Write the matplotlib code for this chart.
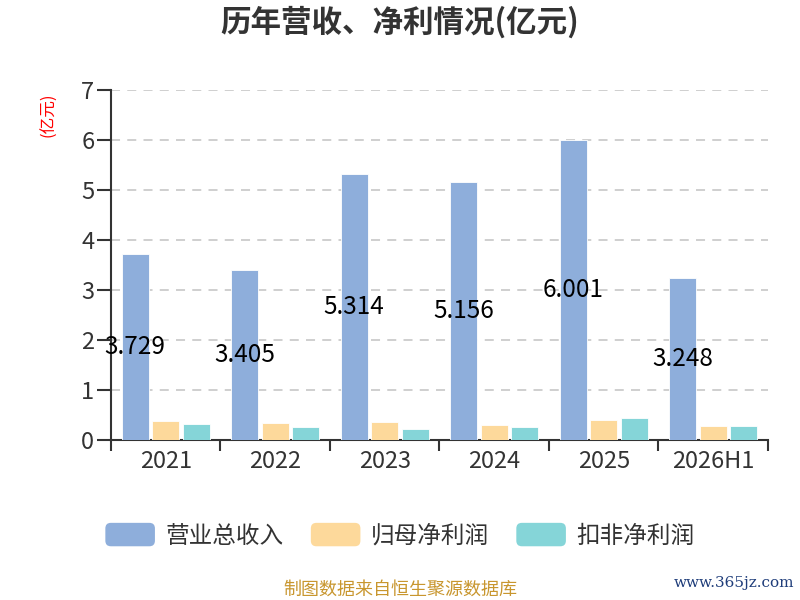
import numpy as np
import matplotlib
matplotlib.use("Agg")
import matplotlib.pyplot as plt
from matplotlib.patches import FancyBboxPatch, Patch
from matplotlib.legend_handler import HandlerPatch

plt.rcParams['font.family'] = ['Noto Sans CJK SC', 'DejaVu Sans']

# 数据
years = ['2021', '2022', '2023', '2024', '2025', '2026H1']
revenue = [3.729, 3.405, 5.314, 5.156, 6.001, 3.248]
net_profit = [0.37, 0.33, 0.35, 0.29, 0.40, 0.28]
deducted_profit = [0.32, 0.25, 0.22, 0.25, 0.43, 0.28]
series_names = ['营业总收入', '归母净利润', '扣非净利润']
colors = ['#8eaedb', '#fdd99b', '#85d5d8']


class RoundHandler(HandlerPatch):
    def create_artists(self, legend, orig_handle, xdescent, ydescent,
                       width, height, fontsize, trans):
        p = FancyBboxPatch((-xdescent, -ydescent), width, height,
                           boxstyle="round,pad=0,rounding_size=4",
                           facecolor=orig_handle.get_facecolor(),
                           edgecolor='none', transform=trans)
        return [p]


fig = plt.figure(figsize=(8, 6), dpi=100)
ax = fig.add_axes([0.13875, 0.2667, 0.8212, 0.5833])

x = np.arange(len(years))
w = 0.247
step = 0.28
all_series = [revenue, net_profit, deducted_profit]
for i, vals in enumerate(all_series):
    ax.bar(x + (i - 1) * step, vals, width=w, color=colors[i],
           edgecolor='white', linewidth=0.6, zorder=3)

# 营收数值标签放在柱子中部
for xi, v in zip(x, revenue):
    ax.text(xi - step, v / 2, f'{v:.3f}', ha='center', va='center',
            fontsize=17.5, color='black', zorder=4)

ax.set_xlim(-0.5, len(years) - 0.5)
ax.set_ylim(0, 7)
ax.set_yticks(range(0, 8))
ax.set_xticks(np.arange(-0.5, len(years), 1.0), minor=False)
ax.set_xticklabels([])
ax.set_xticks(x, minor=True)
ax.set_xticklabels(years, minor=True)
ax.tick_params(axis='x', which='minor', length=0, labelsize=17,
               labelcolor='#333333', pad=7)
ax.tick_params(axis='x', which='major', length=8, width=1.5, color='#333333')
ax.tick_params(axis='y', length=10, width=1.5, color='#333333',
               labelsize=17, labelcolor='#333333', pad=2)

for y in range(1, 8):
    ax.axhline(y, color='#cccccc', linestyle=(0, (5, 4)), linewidth=1.3, zorder=1)

for s in ['top', 'right']:
    ax.spines[s].set_visible(False)
for s in ['left', 'bottom']:
    ax.spines[s].set_color('#333333')
    ax.spines[s].set_linewidth(1.5)

fig.text(0.061, 0.808, '(亿元)', rotation=90, color='red', fontsize=12,
         ha='center', va='center')

fig.text(0.5, 0.962, '历年营收、净利情况(亿元)', ha='center', va='center',
         fontsize=22, fontweight='bold', color='#333333')

handles = [Patch(facecolor=c) for c in colors]
fig.legend(handles, series_names, loc='center', bbox_to_anchor=(0.5, 0.108),
           ncol=3, frameon=False, fontsize=17, handlelength=2.1,
           handleheight=1.15, handletextpad=0.45, columnspacing=1.15,
           labelcolor='#333333',
           handler_map={Patch: RoundHandler()})

fig.text(0.5, 0.017, '制图数据来自恒生聚源数据库', ha='center', va='center',
         fontsize=13, color='#c8962e')
fig.text(0.993, 0.028, 'www.365jz.com', ha='right', va='center',
         fontsize=11, color='#1f3d7a', family='DejaVu Serif')

fig.savefig('out.png', dpi=100)
